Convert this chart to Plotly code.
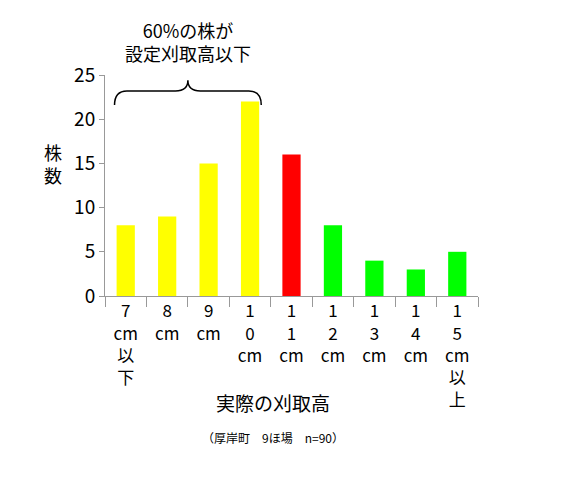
import plotly.graph_objects as go

categories = ["7<br>cm<br>以<br>下", "8<br>cm", "9<br>cm", "1<br>0<br>cm", "1<br>1<br>cm",
              "1<br>2<br>cm", "1<br>3<br>cm", "1<br>4<br>cm", "1<br>5<br>cm<br>以<br>上"]
counts = [8, 9, 15, 22, 16, 8, 4, 3, 5]
colors = ["#FFFF00"] * 4 + ["#FF0000"] + ["#00FF00"] * 4

font = "Noto Sans CJK JP"

fig = go.Figure(go.Bar(x=categories, y=counts, marker=dict(color=colors, line=dict(width=0))))

# brace over the first four bars
x0, x1, xm = -0.27, 3.27, 1.5
yb, yt, yp = 21.6, 23.2, 24.4
brace = (f"M {x0},{yb} Q {x0},{yt} {x0+0.3},{yt} L {xm-0.3},{yt} Q {xm},{yt} {xm},{yp} "
         f"Q {xm},{yt} {xm+0.3},{yt} L {x1-0.3},{yt} Q {x1},{yt} {x1},{yb}")
fig.add_shape(type="path", path=brace, xref="x", yref="y", line=dict(color="black", width=1.5))

fig.add_annotation(text="60%の株が<br>設定刈取高以下", x=xm, y=1.03, xref="x", yref="paper",
                   showarrow=False, font=dict(size=18, color="black", family=font), yanchor="bottom")
fig.add_annotation(text="株<br>数", x=-0.17, y=0.72, xref="paper", yref="paper",
                   showarrow=False, font=dict(size=18, color="black", family=font))
fig.add_annotation(text="実際の刈取高", x=0.45, y=-0.55, xref="paper", yref="paper",
                   showarrow=False, font=dict(size=19, color="black", family=font))
fig.add_annotation(text="（厚岸町　9ほ場　n=90）", x=0.45, y=-0.69, xref="paper", yref="paper",
                   showarrow=False, font=dict(size=12, color="black", family=font))

fig.update_layout(
    width=566, height=480,
    margin=dict(l=97, r=96, t=67, b=192, autoexpand=False),
    plot_bgcolor="white", paper_bgcolor="white",
    bargap=0.56, showlegend=False,
    font=dict(family=font, color="black"),
    xaxis=dict(showline=True, linecolor="#999", tickson="boundaries", ticks="outside",
               ticklen=10, tickcolor="#999", tickfont=dict(size=17), tickangle=0,
               automargin=False),
    yaxis=dict(range=[0, 25], dtick=5, showline=True, linecolor="#999", ticks="outside",
               ticklen=5, tickcolor="#999", showgrid=False, zeroline=False,
               tickfont=dict(size=19), automargin=False),
)

fig.write_html("out.html")
